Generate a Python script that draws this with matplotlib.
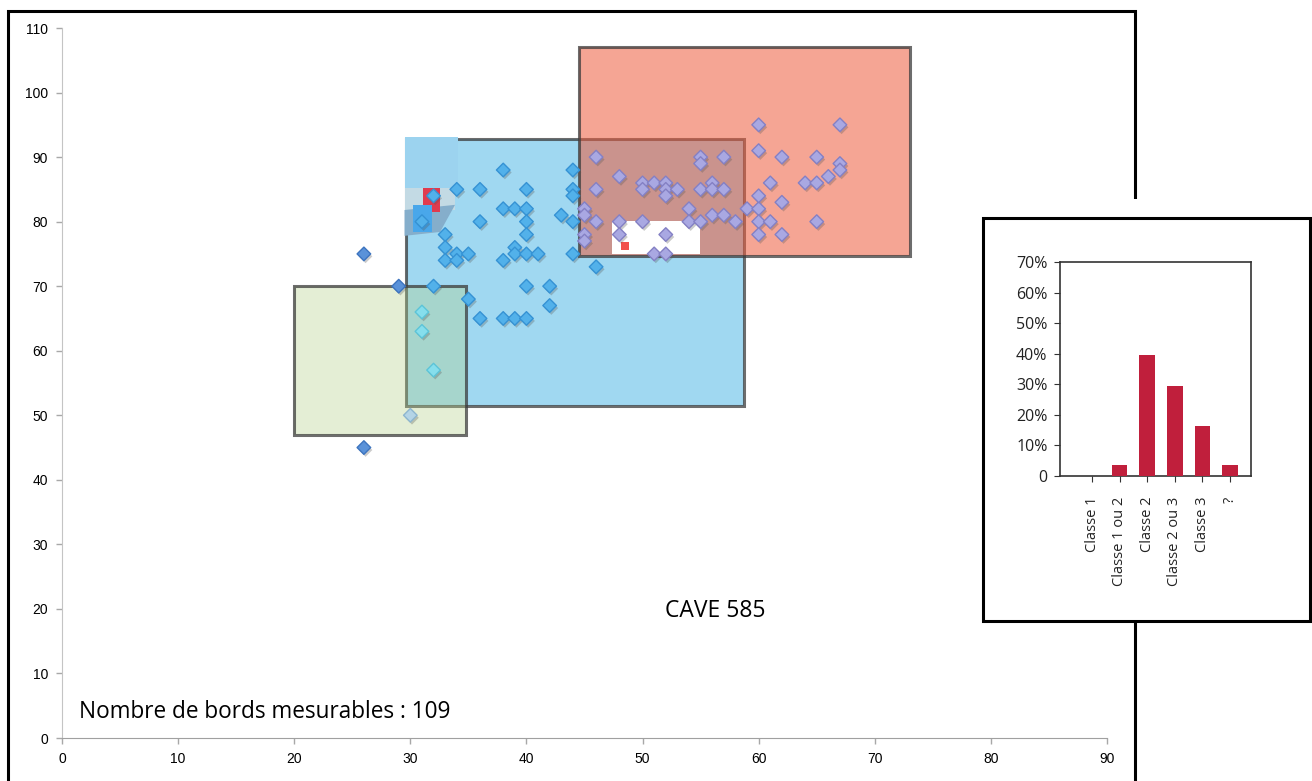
import matplotlib
matplotlib.use("Agg")
import matplotlib.pyplot as plt
from matplotlib.patches import Rectangle, Polygon
import matplotlib.patheffects as pe
import numpy as np

# ---------------- data ----------------
pts_x = [26, 26, 29, 30, 31, 31, 32, 32, 35, 38, 44, 34, 36, 40, 44, 44, 32, 38, 39, 40,
         43, 44, 36, 40, 31, 40, 33, 33, 39, 34, 35, 33, 34, 38, 39, 40, 41, 44, 40, 42,
         42, 36, 38, 39, 40, 45, 45, 45, 45, 46, 46, 55, 55, 57, 60, 48, 46, 50, 50, 51,
         52, 52, 52, 53, 55, 56, 56, 57, 54, 46, 48, 50, 54, 55, 56, 57, 58, 48, 52, 51,
         52, 59, 60, 60, 60, 60, 61, 67, 60, 62, 65, 67, 67, 66, 64, 65, 61, 62, 65, 62]
pts_y = [75, 45, 70, 50, 66, 63, 57, 70, 68, 88, 88, 85, 85, 85, 85, 84, 84, 82, 82, 82,
         81, 80, 80, 80, 80, 78, 78, 76, 76, 75, 75, 74, 74, 74, 75, 75, 75, 75, 70, 70,
         67, 65, 65, 65, 65, 82, 81, 78, 77, 73, 90, 90, 89, 90, 91, 87, 85, 86, 85, 86,
         86, 85, 84, 85, 85, 86, 85, 85, 82, 80, 80, 80, 80, 80, 81, 81, 80, 78, 78, 75,
         75, 82, 82, 84, 80, 78, 80, 95, 95, 90, 90, 89, 88, 87, 86, 86, 86, 83, 80, 78]

# zones (green = classe 1, blue = classe 2, red = classe 3)
zone_x0 = [20.0, 29.6, 44.5]
zone_x1 = [34.8, 58.7, 73.0]
zone_y0 = [47.0, 51.4, 74.7]
zone_y1 = [70.0, 92.8, 107.1]

# inset bar chart
inset_categories = ["Classe 1", "Classe 1 ou 2", "Classe 2", "Classe 2 ou 3", "Classe 3", "?"]
inset_values = [0.0, 3.7, 39.6, 29.5, 16.4, 3.7]
inset_yticks = [0, 10, 20, 30, 40, 50, 60, 70]
inset_ylabels = ["0", "10%", "20%", "30%", "40%", "50%", "60%", "70%"]

main_xticks = list(range(0, 91, 10))
main_yticks = list(range(0, 111, 10))

count_label = "Nombre de bords mesurables : 109"
site_label = "CAVE 585"

# ---------------- figure ----------------
W, H = 1312, 781
fig = plt.figure(figsize=(W / 100, H / 100), dpi=100)
fx = lambda px: px / W
fy = lambda py: 1 - py / H

ax = fig.add_axes([fx(62), fy(738), fx(1107) - fx(62), fy(28) - fy(738)])
ax.set_xlim(0, 90)
ax.set_ylim(0, 110)
ax.set_xticks(main_xticks)
ax.set_yticks(main_yticks)
for s in ["top", "right"]:
    ax.spines[s].set_visible(False)
ax.spines["left"].set_color("#C4C4C4")
ax.spines["bottom"].set_color("#A0A0A0")
ax.tick_params(direction="out", length=4, width=1, color="#A8A8A8", labelsize=10, pad=6)
for lab in ax.get_xticklabels() + ax.get_yticklabels():
    lab.set_family("Liberation Sans")

# zone rectangles
fills = [("#B4D187", 0.35), ("#61BEE8", 0.6), ("#ED5B3C", 0.55)]
order = [1, 0, 2]
for z, i in enumerate(order):
    col, a = fills[i]
    ax.add_patch(Rectangle((zone_x0[i], zone_y0[i]), zone_x1[i] - zone_x0[i], zone_y1[i] - zone_y0[i],
                           facecolor=col, alpha=a, edgecolor="none", zorder=2 + z))
    ax.add_patch(Rectangle((zone_x0[i], zone_y0[i]), zone_x1[i] - zone_x0[i], zone_y1[i] - zone_y0[i],
                           facecolor="none", edgecolor="#3C3C3C", alpha=0.75, lw=2.2, zorder=2.5 + z))

# artefacts of the original composite
ax.add_patch(Rectangle((29.5, 85.2), 4.6, 7.9, facecolor="#9CD3EF", edgecolor="none", zorder=6))
ax.add_patch(Rectangle((29.5, 81.8), 4.35, 3.4, facecolor="#C3DAE4", edgecolor="none", zorder=6))
ax.add_patch(Polygon([(29.5, 81.8), (33.85, 82.6), (32.56, 78.4), (29.5, 77.8)],
                     facecolor="#85AECB", edgecolor="none", zorder=6))
ax.add_patch(Rectangle((31.1, 81.5), 1.46, 3.7, facecolor="#E03A4E", edgecolor="none", zorder=6.1))
ax.add_patch(Rectangle((30.2, 78.4), 1.7, 4.2, facecolor="#49A7EA", edgecolor="none", zorder=6.2))
ax.add_patch(Rectangle((47.37, 74.95), 7.58, 5.15, facecolor="white", edgecolor="none", zorder=6))
ax.add_patch(Rectangle((48.15, 75.6), 0.7, 1.2, facecolor="#F2514B", edgecolor="none", zorder=6.1))

# point colours depend on which zone they fall in
def inside(i, x, y):
    return zone_x0[i] < x < zone_x1[i] and zone_y0[i] < y < zone_y1[i]

fc, ec = [], []
for x, y in zip(pts_x, pts_y):
    if inside(2, x, y):
        fc.append("#A9A8E2"); ec.append("#8480C4")
    elif inside(0, x, y) and inside(1, x, y):
        fc.append("#86DEEC"); ec.append("#5CC4D8")
    elif inside(0, x, y):
        fc.append("#B4D4E6"); ec.append("#8DB6CF")
    elif inside(1, x, y):
        fc.append("#52B1EA"); ec.append("#3592D4")
    else:
        fc.append("#5A92D9"); ec.append("#3D74BF")

sc = ax.scatter(pts_x, pts_y, marker="D", s=48, c=fc, edgecolors=ec, linewidths=1.0, zorder=8)
sc.set_path_effects([pe.SimplePatchShadow(offset=(1.2, -1.8), shadow_rgbFace="#555555", alpha=0.3),
                     pe.Normal()])

ax.text(51.9, 19.7, site_label, ha="left", va="center", fontsize=16.5, family="Open Sans", zorder=9)
ax.text(1.5, 4.0, count_label, ha="left", va="center", fontsize=16.3, family="Open Sans", zorder=9)

# outer frame
fig.add_artist(Rectangle((fx(8), fy(800)), fx(1135) - fx(8), fy(11) - fy(800),
                         transform=fig.transFigure, fill=False, ec="black", lw=2.2, zorder=1))
fig.add_artist(Rectangle((fx(1125), fy(218)), fx(1145) - fx(1125), fy(199) - fy(218),
                         transform=fig.transFigure, fc="white", ec="none", zorder=1.5))
fig.add_artist(Rectangle((fx(983), fy(621)), fx(1310) - fx(983), fy(218) - fy(621),
                         transform=fig.transFigure, fc="white", ec="black", lw=2.2, zorder=2))

# inset
iax = fig.add_axes([fx(1060), fy(476), fx(1251) - fx(1060), fy(262) - fy(476)])
iax.set_zorder(3)
xpos = np.arange(len(inset_categories))
iax.bar(xpos, inset_values, width=0.57, color="#C01F3C", zorder=3)
iax.set_xlim(-1.16, 5.76)
iax.set_ylim(0, 70)
iax.set_yticks(inset_yticks)
iax.set_yticklabels(inset_ylabels)
iax.set_xticks(xpos)
iax.set_xticklabels(inset_categories, rotation=90)
for s in iax.spines.values():
    s.set_color("#333333")
    s.set_linewidth(1.2)
iax.tick_params(axis="y", direction="out", length=4, color="#333333", labelsize=11.5, pad=5, labelcolor="#222222")
iax.tick_params(axis="x", direction="out", length=4, color="#333333", labelsize=10.5, pad=11, labelcolor="#222222")
for lab in iax.get_xticklabels() + iax.get_yticklabels():
    lab.set_family("Open Sans")

fig.savefig("out.png", dpi=100)
